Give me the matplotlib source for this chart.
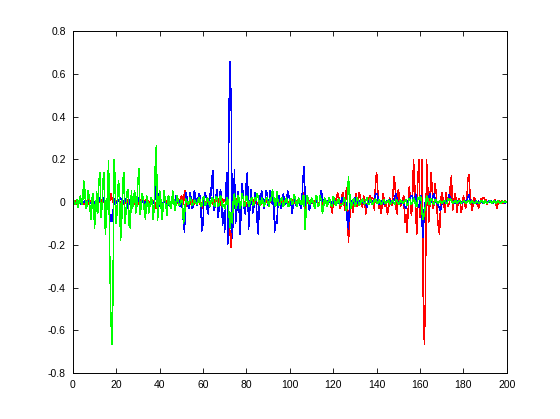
import numpy as np
import matplotlib
matplotlib.use("Agg")
import matplotlib.pyplot as plt

# signal values sampled every 0.5 from 0 to 200 (one row = 10 units)
green = [
    0.0, 0.005, -0.01, -0.005, 0.01, -0.025, 0.01, 0.03, -0.01, -0.005, 0.1, 0.06, -0.03, -0.02, 0.055, 0.03, -0.04, -0.08, 0.03, 0.04,
    -0.12, -0.06, 0.05, -0.05, 0.09, 0.14, -0.07, -0.02, 0.11, 0.14, -0.15, -0.07, 0.05, 0.195, -0.235, -0.52, -0.665, -0.45, 0.2, 0.11,
    -0.1, -0.03, 0.1, 0.06, -0.18, -0.1, 0.09, 0.14, -0.1, -0.05, 0.05, 0.06, -0.11, -0.12, 0.055, -0.03, 0.01, 0.055, -0.05, -0.02,
    0.1, 0.155, -0.055, -0.02, 0.04, 0.01, -0.04, -0.08, 0.03, 0.01, -0.05, -0.02, 0.02, 0.01, -0.08, -0.03, 0.17, 0.265, -0.087, -0.03,
    0.055, 0.02, -0.08, -0.04, 0.055, 0.015, -0.025, -0.06, 0.03, 0.02, -0.03, -0.02, 0.055, 0.015, -0.04, -0.01, 0.03, 0.01, -0.015, -0.01,
    0.01, 0.005, -0.1, -0.06, 0.015, 0.005, -0.01, -0.005, 0.02, 0.01, -0.015, -0.01, 0.01, 0.005, -0.01, -0.005, 0.02, 0.015, -0.02, -0.015,
    0.02, 0.025, -0.015, -0.01, 0.02, 0.015, -0.02, -0.01, 0.02, 0.015, -0.015, -0.02, 0.025, 0.02, -0.02, -0.01, 0.03, 0.015, -0.025, -0.01,
    -0.03, -0.01, 0.02, 0.01, -0.06, -0.12, -0.05, -0.1, 0.02, 0.04, -0.03, -0.02, 0.03, 0.02, -0.03, -0.01, 0.04, 0.02, -0.02, -0.01,
    0.03, 0.02, -0.02, -0.01, 0.015, 0.02, -0.015, -0.01, 0.02, 0.01, 0.04, 0.02, -0.01, -0.015, 0.02, 0.01, -0.02, -0.01, 0.015, 0.02,
    -0.005, -0.02, 0.02, 0.01, 0.06, 0.03, -0.01, -0.02, 0.05, 0.01, -0.015, -0.01, 0.015, 0.02, -0.02, -0.01, 0.01, 0.02, -0.015, -0.02,
    0.01, 0.015, -0.01, -0.005, 0.035, 0.02, -0.01, -0.02, 0.02, 0.01, -0.01, -0.01, 0.03, 0.03, -0.125, -0.05, 0.03, 0.015, -0.01, -0.01,
    0.02, 0.01, -0.01, -0.03, 0.03, 0.025, -0.02, -0.01, 0.03, 0.01, -0.05, -0.03, 0.02, 0.015, -0.02, -0.01, 0.02, 0.01, -0.015, -0.02,
    0.025, 0.02, -0.015, -0.01, 0.01, 0.015, -0.01, -0.015, -0.01, -0.01, 0.02, 0.01, -0.04, -0.02, 0.117, 0.06, -0.03, -0.02, 0.01, 0.015,
    -0.02, -0.01, 0.02, 0.01, -0.015, -0.01, 0.01, 0.015, -0.005, -0.01, 0.01, 0.02, -0.01, -0.01, 0.015, 0.005, -0.01, -0.01, 0.01, 0.015,
    -0.005, -0.005, 0.01, 0.005, -0.01, -0.005, 0.005, 0.01, -0.005, -0.005, 0.005, 0.01, -0.01, -0.005, 0.005, 0.005, -0.005, -0.01, 0.01, 0.005,
    -0.005, -0.01, 0.01, 0.005, -0.005, 0.0, 0.005, 0.01, -0.015, -0.01, 0.015, 0.01, -0.01, -0.005, 0.02, 0.01, -0.015, -0.02, 0.02, 0.015,
    0.025, 0.02, -0.055, -0.08, -0.05, -0.02, 0.03, 0.02, -0.01, -0.01, 0.015, 0.01, -0.005, -0.01, 0.01, 0.01, -0.005, -0.005, 0.005, 0.005,
    -0.005, 0.0, 0.005, 0.005, -0.005, -0.005, 0.015, 0.01, 0.015, 0.005, -0.005, 0.0, 0.005, 0.005, -0.005, 0.0, 0.005, 0.005, -0.005, 0.0,
    0.005, 0.005, -0.005, 0.0, 0.005, 0.005, -0.005, 0.0, 0.005, 0.0, -0.005, -0.005, 0.005, 0.0, -0.005, 0.0, 0.005, 0.005, 0.0, -0.005,
    0.005, 0.0, -0.005, 0.0, 0.005, 0.005, -0.005, 0.0, 0.005, 0.0, -0.005, 0.0, 0.005, 0.0, -0.005, -0.005, 0.005, 0.0, 0.0, 0.005,
    0.0,
]

blue = [
    0.0, 0.005, -0.005, -0.005, 0.005, 0.0, -0.005, -0.005, -0.01, 0.005, 0.0, 0.005, -0.005, 0.0, 0.005, 0.005, -0.005, 0.0, 0.005, 0.005,
    -0.005, 0.0, 0.005, 0.01, 0.02, 0.01, -0.01, -0.005, 0.01, 0.02, -0.025, -0.01, 0.01, 0.02, -0.095, -0.06, -0.09, -0.05, 0.0, 0.015,
    -0.005, -0.005, 0.01, 0.015, 0.02, 0.01, -0.005, 0.0, 0.015, 0.01, -0.01, -0.03, 0.005, 0.01, -0.005, -0.005, 0.005, 0.0, 0.01, 0.005,
    0.005, 0.02, -0.015, -0.005, 0.005, 0.01, -0.005, 0.0, 0.005, -0.01, -0.025, -0.01, 0.005, 0.01, -0.005, 0.0, 0.02, 0.11, 0.07, -0.025,
    0.0, 0.015, -0.01, -0.005, 0.005, 0.0, -0.01, -0.04, 0.005, 0.01, -0.005, -0.005, 0.005, 0.01, -0.005, 0.03, 0.0, 0.01, 0.005, -0.02,
    0.01, -0.03, -0.095, -0.14, 0.046, 0.03, -0.01, -0.03, 0.045, 0.02, -0.03, -0.02, 0.054, 0.03, -0.015, -0.01, 0.04, 0.03, -0.03, -0.134,
    -0.1, 0.025, 0.045, 0.02, -0.04, -0.055, 0.04, 0.02, 0.1, 0.148, -0.04, -0.02, 0.03, 0.06, -0.07, -0.02, 0.06, 0.03, -0.11, -0.05,
    -0.14, 0.06, 0.14, -0.195, 0.445, 0.66, 0.445, -0.17, -0.05, 0.15, -0.1, -0.05, 0.05, 0.02, -0.15, -0.07, 0.085, 0.04, -0.03, -0.055,
    0.11, 0.14, -0.125, -0.05, 0.06, 0.015, -0.05, -0.02, 0.045, 0.02, -0.095, -0.15, 0.03, 0.01, 0.054, 0.02, -0.03, -0.01, 0.055, 0.045,
    -0.016, 0.01, 0.054, 0.02, -0.01, 0.03, -0.14, -0.09, -0.1, -0.016, 0.03, 0.01, -0.03, -0.01, 0.04, 0.01, -0.01, 0.0, 0.055, 0.03,
    0.015, 0.0, -0.05, -0.02, 0.015, 0.005, -0.016, -0.01, 0.015, 0.005, -0.03, -0.01, 0.1, 0.165, 0.05, -0.016, 0.015, 0.005, -0.04, -0.01,
    0.005, 0.01, -0.01, -0.03, 0.01, 0.005, -0.015, -0.01, 0.02, 0.054, 0.02, 0.0, 0.01, 0.005, -0.005, 0.005, 0.0, 0.005, -0.005, 0.0,
    0.005, -0.005, 0.005, 0.0, 0.005, -0.005, 0.01, 0.0, 0.02, 0.005, 0.0, 0.005, -0.01, -0.09, -0.125, -0.02, 0.0, 0.005, -0.005, 0.01,
    0.02, 0.005, 0.01, -0.005, 0.005, 0.0, 0.005, -0.005, 0.005, 0.0, -0.01, -0.025, 0.0, 0.005, 0.01, 0.0, 0.005, 0.0, 0.01, 0.04,
    0.04, 0.03, -0.01, 0.0, 0.005, -0.005, 0.005, -0.01, 0.0, 0.005, 0.0, 0.005, 0.01, 0.0, 0.005, 0.0, 0.01, 0.03, 0.04, 0.01,
    0.0, 0.005, -0.005, 0.0, 0.005, -0.01, -0.02, -0.03, 0.0, 0.005, 0.01, 0.02, 0.03, 0.03, 0.005, 0.0, 0.04, 0.01, -0.01, -0.025,
    0.0, 0.03, -0.11, -0.165, -0.02, 0.0, 0.005, 0.01, 0.02, 0.04, 0.01, 0.0, 0.03, 0.04, 0.01, 0.0, -0.005, -0.015, -0.03, -0.04,
    -0.01, 0.0, 0.005, -0.005, 0.005, 0.0, 0.01, 0.035, 0.02, 0.005, 0.0, 0.005, -0.005, 0.0, 0.005, -0.005, 0.0, 0.005, 0.0, -0.005,
    0.005, 0.0, 0.005, 0.0, 0.02, 0.035, 0.01, 0.0, 0.005, -0.005, 0.0, 0.005, 0.0, -0.005, 0.005, 0.0, 0.005, 0.0, -0.005, 0.0,
    0.005, 0.0, -0.005, 0.005, 0.0, 0.0, 0.005, -0.005, 0.0, 0.005, -0.005, 0.0, 0.005, 0.0, -0.005, 0.0, 0.005, 0.0, -0.005, 0.0,
    0.0,
]

red = [
    0.0, -0.005, 0.005, -0.01, 0.005, 0.0, -0.005, 0.01, -0.005, 0.005, -0.01, 0.0, 0.005, -0.005, 0.01, -0.01, 0.005, 0.0, -0.005, 0.005,
    -0.01, 0.005, 0.0, -0.005, 0.005, 0.0, 0.01, -0.005, 0.005, 0.0, -0.01, 0.005, 0.0, 0.015, 0.005, 0.04, 0.02, 0.005, -0.01, 0.0,
    0.005, -0.005, 0.01, 0.0, -0.005, 0.005, -0.01, 0.0, 0.005, -0.005, 0.01, 0.0, -0.01, 0.005, -0.005, 0.0, 0.005, -0.01, 0.005, 0.0,
    -0.01, 0.005, 0.01, -0.005, 0.0, 0.005, -0.005, 0.01, 0.0, -0.005, 0.005, 0.0, -0.01, 0.005, 0.0, 0.005, -0.01, -0.03, 0.0, 0.01,
    -0.005, 0.005, 0.0, -0.005, 0.005, 0.0, -0.01, 0.005, 0.0, 0.005, -0.005, 0.0, 0.01, -0.005, 0.0, 0.005, -0.005, 0.0, 0.01, -0.005,
    0.03, 0.02, -0.01, 0.054, 0.045, -0.02, -0.015, 0.0, 0.01, -0.01, 0.01, 0.0, -0.01, 0.005, 0.01, -0.005, 0.005, -0.01, 0.0, -0.02,
    -0.03, 0.01, -0.01, 0.005, -0.015, 0.01, -0.005, 0.005, 0.0, -0.01, 0.01, -0.005, 0.005, 0.01, 0.015, 0.0, -0.015, 0.005, 0.015, 0.0,
    0.01, -0.005, 0.04, 0.06, -0.1, -0.15, -0.21, -0.08, 0.04, 0.015, -0.025, -0.01, 0.04, 0.02, -0.03, -0.01, 0.04, 0.03, -0.02, -0.03,
    -0.01, 0.0, 0.01, 0.0, 0.015, -0.005, 0.01, 0.0, -0.005, 0.005, -0.01, 0.0, 0.005, -0.005, -0.01, 0.005, 0.0, -0.005, 0.005, 0.0,
    -0.005, 0.005, 0.0, 0.01, -0.005, 0.005, 0.0, -0.01, 0.005, 0.0, 0.01, -0.005, 0.0, 0.005, -0.005, 0.01, 0.0, -0.005, 0.005, 0.0,
    -0.005, 0.005, 0.0, 0.01, -0.005, 0.0, 0.005, -0.01, 0.0, 0.01, 0.005, -0.01, 0.02, 0.046, -0.04, 0.0, 0.01, -0.005, 0.005, -0.005,
    0.005, 0.0, -0.01, -0.005, 0.02, 0.02, -0.01, -0.005, 0.03, 0.02, -0.02, -0.01, 0.015, 0.01, -0.01, -0.005, 0.005, 0.01, -0.02, -0.05,
    -0.01, 0.0, 0.015, 0.01, 0.046, 0.03, -0.03, -0.02, 0.03, 0.046, -0.01, -0.04, 0.054, 0.07, -0.19, -0.1, 0.01, -0.01, -0.047, -0.02,
    0.0, 0.038, -0.02, -0.01, 0.046, 0.02, 0.0, -0.025, 0.03, 0.01, -0.055, -0.02, 0.02, 0.005, 0.03, 0.01, 0.02, 0.015, -0.04, 0.093,
    0.14, 0.06, -0.03, -0.01, -0.05, -0.02, 0.04, 0.01, -0.02, -0.01, -0.055, -0.03, 0.02, 0.01, -0.015, 0.03, 0.12, 0.08, -0.03, -0.055,
    0.06, 0.02, -0.02, -0.01, 0.01, 0.03, -0.095, -0.06, -0.14, -0.05, 0.07, 0.03, -0.06, -0.02, 0.2, 0.1, -0.04, -0.15, 0.11, 0.2,
    -0.07, -0.02, 0.2, -0.45, -0.665, -0.45, 0.2, 0.1, -0.095, -0.02, 0.14, 0.085, -0.03, -0.01, 0.085, 0.04, -0.063, -0.12, -0.15, 0.0,
    0.045, 0.02, -0.01, -0.048, 0.045, 0.01, -0.02, -0.005, 0.085, 0.125, -0.04, -0.01, 0.04, 0.02, -0.048, -0.01, 0.015, 0.0, -0.048, -0.02,
    0.03, 0.0, -0.03, -0.01, 0.1, 0.13, 0.05, 0.0, -0.04, -0.01, 0.02, 0.01, -0.01, 0.0, -0.03, -0.01, 0.015, 0.01, 0.02, 0.02,
    0.0, 0.01, -0.01, 0.005, 0.0, 0.005, -0.005, 0.0, 0.0, 0.01, -0.01, -0.03, 0.0, 0.005, -0.005, 0.005, 0.0, -0.005, 0.005, 0.0,
    0.0,
]

x_ticks = [0, 20, 40, 60, 80, 100, 120, 140, 160, 180, 200]
y_ticks = [-0.8, -0.6, -0.4, -0.2, 0, 0.2, 0.4, 0.6, 0.8]
y_labels = ["-0.8", "-0.6", "-0.4", "-0.2", "0", "0.2", "0.4", "0.6", "0.8"]

x = np.linspace(0, 200, len(green))

plt.rcParams["font.family"] = ["Liberation Sans", "DejaVu Sans"]

fig = plt.figure(figsize=(5.6, 4.19), dpi=100)
ax = fig.add_axes([0.13, 0.11, 0.775, 0.815])

# thin, aliased lines like the original screen capture
for vals, col in [(red, "#ff0000"), (blue, "#0000ff"), (green, "#00ff00")]:
    ax.plot(x, vals, color=col, linewidth=0.35, antialiased=False)

ax.set_xlim(0, 200)
ax.set_ylim(-0.8, 0.8)
ax.set_xticks(x_ticks)
ax.set_yticks(y_ticks)
ax.set_yticklabels(y_labels)
ax.tick_params(direction="in", top=True, right=True, length=3.5, width=0.6,
               labelsize=7.5, pad=5)
for s in ax.spines.values():
    s.set_linewidth(0.7)

fig.savefig("out.png", dpi=100)
